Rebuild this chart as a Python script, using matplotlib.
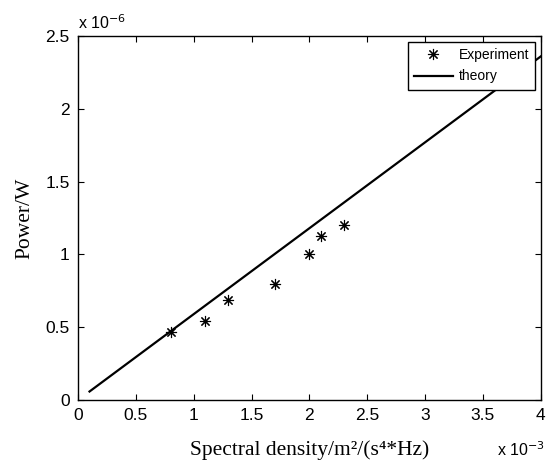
import matplotlib
matplotlib.use("Agg")
import matplotlib.pyplot as plt
from matplotlib.ticker import FuncFormatter

# measured points (x in m^2/(s^4*Hz), y in W)
spectral_density = [0.8e-3, 1.1e-3, 1.3e-3, 1.7e-3, 2.0e-3, 2.1e-3, 2.3e-3]
power_exp = [0.47e-6, 0.545e-6, 0.685e-6, 0.795e-6, 1.0e-6, 1.13e-6, 1.205e-6]

# theory line end points
theory_x = [0.1e-3, 4.0e-3]
theory_y = [0.059e-6, 2.36e-6]

x_ticks = [0, 0.5e-3, 1e-3, 1.5e-3, 2e-3, 2.5e-3, 3e-3, 3.5e-3, 4e-3]
y_ticks = [0, 0.5e-6, 1e-6, 1.5e-6, 2e-6, 2.5e-6]

plt.rcParams['font.family'] = ['Liberation Sans', 'DejaVu Sans']

fig = plt.figure(figsize=(5.49, 4.62), dpi=100)
ax = fig.add_axes([0.142, 0.134, 0.843, 0.788])

ax.plot(spectral_density, power_exp, linestyle='none', marker=(8, 2, 0), markersize=8,
        color='black', markeredgewidth=0.8, label='Experiment')
ax.plot(theory_x, theory_y, color='black', linewidth=1.6, label='theory')

ax.set_xlim(0, 4e-3)
ax.set_ylim(0, 2.5e-6)
ax.set_xticks(x_ticks)
ax.set_yticks(y_ticks)
ax.xaxis.set_major_formatter(FuncFormatter(lambda v, p: '%g' % round(v * 1e3, 3)))
ax.yaxis.set_major_formatter(FuncFormatter(lambda v, p: '%g' % round(v * 1e6, 3)))
ax.tick_params(direction='in', top=True, right=True, labelsize=12.5, length=4, pad=6)
for s in ax.spines.values():
    s.set_linewidth(1.0)

serif = ['Liberation Serif', 'DejaVu Serif']
ax.set_xlabel('Spectral density/m\u00b2/(s\u2074*Hz)', family=serif, fontsize=15.5, labelpad=12)
ax.set_ylabel('Power/W', family=serif, fontsize=15.5, labelpad=8)

ax.text(0.0, 1.012, r'x 10$^{-6}$', transform=ax.transAxes, fontsize=11.5, ha='left', va='bottom')
ax.text(1.01, -0.11, r'x 10$^{-3}$', transform=ax.transAxes, fontsize=11.5, ha='right', va='top')

leg = ax.legend(loc='upper right', fontsize=10, fancybox=False, framealpha=1,
                edgecolor='black', borderaxespad=0.4, handlelength=2.8, handletextpad=0.4,
                borderpad=0.45, labelspacing=0.55)
leg.get_frame().set_linewidth(1.0)

fig.savefig('out.png', dpi=100)
